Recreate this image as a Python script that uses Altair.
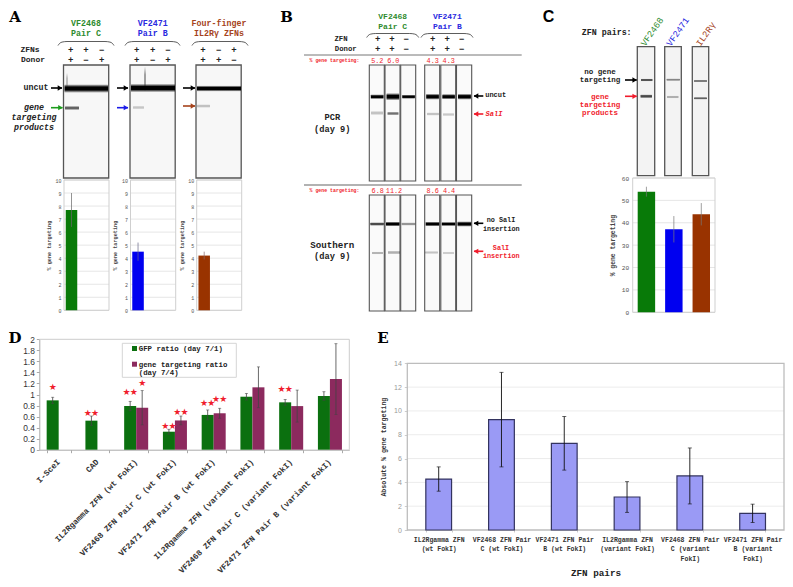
import altair as alt

W, H = 777, 570
MONO = "Liberation Mono"
SANS = "Liberation Sans"
GREEN_T, BLUE_T, BROWN_T, RED = "#2e8b2e", "#2a2ae0", "#a5431c", "#f01c2c"
GREEN, BLUE, BROWN = "#087a08", "#0000f0", "#993300"
D_GREEN, D_PURPLE = "#0b700f", "#8c2a5e"

# ---- panel A / C bar values
lanes = ["ZFN+Donor", "ZFN", "Donor"]
a1_vals, a1_err = [7.7, 0, 0], [1.3, 0, 0]
a2_vals, a2_err = [4.5, 0, 0], [0.7, 0, 0]
a3_vals, a3_err = [4.2, 0, 0], [0.3, 0, 0]
c_names = ["VF2468", "VF2471", "IL2R\u03b3"]
c_vals = [53.9, 37.1, 43.8]
c_err = [2.2, 5.9, 5.0]

# ---- panel D values
d_cats = ["I-SceI", "CAD", "IL2Rgamma ZFN (wt FokI)", "VF2468 ZFN Pair C (wt FokI)",
          "VF2471 ZFN Pair B (wt FokI)", "IL2Rgamma ZFN (variant FokI)",
          "VF2468 ZFN Pair C (variant FokI)", "VF2471 ZFN Pair B (variant FokI)"]
d_gfp = [0.894, 0.526, 0.79, 0.326, 0.63, 0.96, 0.858, 0.973]
d_gfp_err = [0.056, 0.084, 0.086, 0.044, 0.09, 0.06, 0.052, 0.077]
d_gt = [None, None, 0.76, 0.53, 0.66, 1.13, 0.79, 1.28]
d_gt_err = [None, None, 0.31, 0.08, 0.09, 0.37, 0.29, 0.64]
d_stars_pair = [("CAD", "g", 0.67), ("IL2Rgamma ZFN (wt FokI)", "g", 1.04),
                ("VF2468 ZFN Pair C (wt FokI)", "g", 0.43), ("VF2468 ZFN Pair C (wt FokI)", "t", 0.69),
                ("VF2471 ZFN Pair B (wt FokI)", "g", 0.845), ("VF2471 ZFN Pair B (wt FokI)", "t", 0.92),
                ("VF2468 ZFN Pair C (variant FokI)", "g", 1.105)]
d_stars_single = [("I-SceI", "g", 1.13), ("IL2Rgamma ZFN (wt FokI)", "t", 1.214)]

# ---- panel E values
e_cats = ["IL2Rgamma  ZFN|(wt FokI)", "VF2468  ZFN Pair|C (wt FokI)", "VF2471  ZFN Pair|B (wt FokI)",
          "IL2Rgamma  ZFN|(variant FokI)", "VF2468  ZFN Pair|C (variant|FokI)", "VF2471  ZFN Pair|B (variant|FokI)"]
e_vals = [4.28, 9.27, 7.28, 2.77, 4.54, 1.4]
e_err = [1.02, 3.97, 2.25, 1.29, 2.35, 0.77]

blank = alt.Data(values=[{}])
layers = []
def X(v): return v - 8
def Y(v): return v - 8

def text(x, y, s, size=8, color="#222", weight="bold", style="normal", align="center", font=MONO, angle=0):
    layers.append(alt.Chart(blank).mark_text(text=s, fontSize=size, color=color, fontWeight=weight,
                  fontStyle=style, align=align, baseline="middle", font=font, angle=angle)
                  .encode(x=alt.value(X(x)), y=alt.value(Y(y))))

def box(x1, y1, x2, y2, fill="#f7f7f7", stroke="#555", sw=1.3, op=1):
    layers.append(alt.Chart(blank).mark_rect(fill=fill, stroke=stroke, strokeWidth=sw, opacity=op)
                  .encode(x=alt.value(X(x1)), x2=alt.value(X(x2)), y=alt.value(Y(y1)), y2=alt.value(Y(y2))))

def band(x1, x2, yc, h, dark="0,0,0", a=1.0):
    h = h * 1.25
    grad = alt.LinearGradient(gradient="linear", x1=0, y1=0, x2=0, y2=1, stops=[
        alt.GradientStop(color=f"rgba({dark},0)", offset=0),
        alt.GradientStop(color=f"rgba({dark},{a})", offset=0.33),
        alt.GradientStop(color=f"rgba({dark},{a})", offset=0.67),
        alt.GradientStop(color=f"rgba({dark},0)", offset=1)])
    layers.append(alt.Chart(blank).mark_rect(color=grad, cornerRadius=1)
                  .encode(x=alt.value(X(x1)), x2=alt.value(X(x2)), y=alt.value(Y(yc - h / 2)), y2=alt.value(Y(yc + h / 2))))

def hline(x1, x2, y, color="#666", sw=1.0):
    layers.append(alt.Chart(blank).mark_rule(color=color, strokeWidth=sw)
                  .encode(x=alt.value(X(x1)), x2=alt.value(X(x2)), y=alt.value(Y(y))))

def arrow(x_tail, x_head, y, color):
    hline(x_tail, x_head, y, color, 1.6)
    shape = "triangle-right" if x_head > x_tail else "triangle-left"
    layers.append(alt.Chart(blank).mark_point(shape=shape, filled=True, color=color, size=28, opacity=1)
                  .encode(x=alt.value(X(x_head - (2 if x_head > x_tail else -2))), y=alt.value(Y(y))))

def brace(x1, x2, y):
    pts = [(x1, y + 4), (x1 + 1.5, y + 2), (x1 + 4, y + 0.6), (x1 + 9, y), (x2 - 9, y),
           (x2 - 4, y + 0.6), (x2 - 1.5, y + 2), (x2, y + 4)]
    vals = [{"a": X(p[0]), "b": Y(p[1]), "i": i} for i, p in enumerate(pts)]
    layers.append(alt.Chart(alt.Data(values=vals)).mark_line(color="#333", strokeWidth=0.8, interpolate="monotone")
                  .encode(x=alt.X("a:Q", scale=None, axis=None), y=alt.Y("b:Q", scale=None, axis=None), order="i:Q"))

def signs(xs, y, row):
    for x, s in zip(xs, row):
        text(x, y, "+" if s == "+" else "\u2212", size=9)

def small_bars(names, vals, errs, colors, x1, x2, y0, ytop, ymax, ticks, bw_pad, tsize, tpad, titlepad, ttsize, errcolor):
    data = [{"n": n, "v": v, "lo": v - e, "hi": v + e, "c": c} for n, v, e, c in zip(names, vals, errs, colors)]
    gridvals = [{"t": t} for t in ticks]
    ys = alt.Scale(domain=[0, ymax], range=[Y(y0), Y(ytop)], nice=False)
    xs = alt.Scale(domain=names, range=[X(x1), X(x2)], paddingInner=bw_pad, paddingOuter=bw_pad / 2)
    layers.append(alt.Chart(alt.Data(values=gridvals)).mark_rule(color="#e6e6e6", strokeWidth=1)
                  .encode(y=alt.Y("t:Q", scale=ys, axis=alt.Axis(orient="left", offset=-X(x1), values=ticks, domain=False,
                          ticks=False, grid=False, labelFontSize=tsize, labelFont=MONO, labelColor="#555", labelPadding=tpad,
                          title="% gene targeting", titleFont=MONO, titleFontSize=ttsize, titleFontWeight="bold",
                          titleColor="#444", titlePadding=titlepad, format="d")),
                          x=alt.value(X(x1)), x2=alt.value(X(x2))))
    box(x1, ytop, x2, y0, fill="transparent", stroke="#cfcfcf", sw=1)
    layers.append(alt.Chart(alt.Data(values=data)).mark_bar(orient="vertical")
                  .encode(x=alt.X("n:N", scale=xs, sort=names, axis=None), y=alt.Y("v:Q", scale=ys, axis=None),
                          color=alt.Color("c:N", scale=None, legend=None)))
    layers.append(alt.Chart(alt.Data(values=[d for d in data if d["v"] > 0])).mark_rule(color=errcolor, strokeWidth=1, opacity=0.7)
                  .encode(x=alt.X("n:N", scale=xs, sort=names, axis=None), y=alt.Y("lo:Q", scale=ys, axis=None), y2="hi:Q"))

# ------------------- panel letters
text(15, 16.5, "A", size=15, font="DejaVu Serif", color="#000")
text(286.5, 16.5, "B", size=15, font="DejaVu Serif", color="#000")
text(548.5, 16.5, "C", size=16, font=SANS, color="#000")
text(15, 338, "D", size=15, font="DejaVu Serif", color="#000")
text(383, 338, "E", size=15, font="DejaVu Serif", color="#000")

# ------------------- panel A
for cx, a, b, col in [(86, "VF2468", "Pair C", GREEN_T), (152.7, "VF2471", "Pair B", BLUE_T),
                      (219, "Four-finger", "IL2R\u03b3 ZFNs", BROWN_T)]:
    text(cx, 23.5, a, size=8.3, color=col)
    text(cx, 34, b, size=8.3, color=col)
brace(58, 114, 41.5); brace(125, 180, 41.5); brace(192, 248, 41.5)
text(30, 50, "ZFNs", size=8); text(33, 60, "Donor", size=8)
a_cols = [[70.7, 86, 101.7], [136.7, 152.7, 168], [203, 218.7, 234]]
signs(a_cols[0], 50, "++-"); signs(a_cols[0], 60, "+-+")
signs(a_cols[1], 50, "++-"); signs(a_cols[1], 60, "+-+")
signs(a_cols[2], 50, "+-+"); signs(a_cols[2], 60, "++-")
for x in (63.5, 130, 196):
    box(x, 65, x + 45.2, 178)
band(64.5, 108, 88.5, 7); band(66.5, 67.5, 81, 13, a=0.45)
band(131, 175, 88, 7); band(144.5, 145.5, 79, 20, a=0.7)
band(197, 241, 88.5, 5)
band(65, 79, 108, 3.5, a=0.6)
band(133, 144, 107.5, 3, a=0.2)
band(197, 210, 106, 3, a=0.22)
text(36, 88, "uncut", size=8.3)
arrow(51, 62, 88, "#000"); arrow(117, 128, 88, "#000"); arrow(183, 195, 88, "#000")
arrow(51, 62.5, 107.7, "#1c9c1c"); arrow(117, 128, 107.7, "#1c1ce8"); arrow(183, 195, 106, "#a5431c")
text(34, 108, "gene", size=8.3, style="italic")
text(34, 118, "targeting", size=8.3, style="italic")
text(34, 128, "products", size=8.3, style="italic")
tick10 = list(range(0, 11))
small_bars(lanes, a1_vals, a1_err, [GREEN] * 3, 64, 109, 310.3, 180, 10, tick10, 0.233, 5, 3, 3.5, 5.2, "#666")
small_bars(lanes, a2_vals, a2_err, [BLUE] * 3, 130.5, 175.7, 310.3, 180, 10, tick10, 0.233, 5, 3, 3.5, 5.2, "#668")
small_bars(lanes, a3_vals, a3_err, [BROWN] * 3, 196.7, 241.7, 310.3, 180, 10, tick10, 0.233, 5, 3, 3.5, 5.2, "#866")

# ------------------- panel B
text(392.7, 17, "VF2468", size=8, color=GREEN_T); text(392.7, 27, "Pair C", size=8, color=GREEN_T)
text(447.3, 17, "VF2471", size=8, color=BLUE_T); text(447.3, 27, "Pair B", size=8, color=BLUE_T)
brace(366.7, 418.7, 33.5); brace(421, 473, 33.5)
text(341, 39, "ZFN", size=7.3); text(345.7, 48.7, "Donor", size=7.3)
b_cols = [377.7, 392, 406.3, 432.7, 447.3, 461.7]
signs(b_cols, 39, "++-++-"); signs(b_cols, 48.7, "++-++-")
hline(304, 521.7, 55, "#777", 1); hline(304, 521.7, 185, "#999", 1.4)
text(334.5, 61.3, "% gene targeting:", size=4.9, color=RED)
text(334.5, 191, "% gene targeting:", size=4.9, color=RED)
for x, s in [(377.3, "5.2"), (393.3, "6.0"), (432.7, "4.3"), (448.7, "4.3")]:
    text(x, 61, s, size=6.8, color=RED, weight="normal")
for x, s in [(377.7, "6.8"), (394, "11.2"), (432.7, "8.6"), (449, "4.4")]:
    text(x, 191, s, size=6.8, color=RED, weight="normal")
lane_x = [(369.3, 384.3), (385, 400), (400.7, 415.7), (424.7, 439.7), (440.8, 455.7), (456.5, 471.7)]
for x1, x2 in lane_x:
    box(x1, 65, x2, 181, fill="#fafafa", sw=1.1)
    box(x1, 195, x2, 311, fill="#fafafa", sw=1.1)
for (x1, x2), h in zip(lane_x, [4, 6, 3.5, 5, 4.5, 5]):
    band(x1 + 1.5, x2 - 0.8, 96.7, h)
band(371, 383, 113, 3.5, a=0.22); band(387.5, 398.5, 113.5, 3, a=0.55)
band(427, 439, 114, 2.8, a=0.22); band(443, 454, 114.5, 2.8, a=0.2)
text(495.7, 95, "uncut", size=7); text(494, 114, "SalI", size=7, color=RED, style="italic")
arrow(483.3, 474, 96, "#000"); arrow(483.3, 474, 114, RED)
text(332.3, 117, "PCR", size=8.7); text(332.3, 128.5, "(day 9)", size=8.7)
for (x1, x2), h, a in zip(lane_x, [3, 4, 2.8, 4, 3.5, 4.5], [0.7, 1, 0.4, 1, 1, 1]):
    band(x1 + 1, x2 - 0.5, 224, h, a=a)
band(372, 383, 253, 2.5, a=0.28); band(388, 400, 252.5, 3.2, a=0.3)
band(425, 438, 252.5, 2.5, a=0.22); band(443, 454, 253, 2.5, a=0.18)
arrow(483.3, 474, 223.3, "#000"); arrow(483.3, 474, 251.3, RED)
text(501, 220.3, "no SalI", size=6.8); text(501.3, 228.7, "insertion", size=6.8)
text(501, 248, "SalI", size=6.8, color=RED); text(501.3, 256.3, "insertion", size=6.8, color=RED)
text(332.3, 245.3, "Southern", size=9.2); text(332.3, 256.3, "(day 9)", size=8.7)

# ------------------- panel C
text(606.7, 32.7, "ZFN pairs:", size=8.3)
text(652, 31.7, c_names[0], size=9, color=GREEN_T, angle=305, weight="normal")
text(677.7, 31.7, c_names[1], size=9, color=BLUE_T, angle=305, weight="normal")
text(705.7, 34, c_names[2], size=9, color=BROWN_T, angle=305, weight="normal")
for x1, x2 in [(637.3, 654.7), (664.7, 681.3), (692.3, 708.7)]:
    box(x1, 46.7, x2, 175.7, fill="#f3f3f3")
band(641, 652.5, 80, 2.5, a=0.65); band(640.5, 652, 96.3, 3.2, a=0.7)
band(666.5, 680, 79.7, 2.2, a=0.45); band(667, 678.5, 97, 2.5, a=0.28)
band(694, 707, 81, 2.2, a=0.5); band(694, 707, 98.3, 2.2, a=0.6)
text(600, 72, "no gene", size=7.5); text(600, 80, "targeting", size=7.5)
text(600, 96.7, "gene", size=7.5, color=RED); text(600, 104.7, "targeting", size=7.5, color=RED); text(600, 112.7, "products", size=7.5, color=RED)
arrow(625, 636.7, 80, "#000"); arrow(625, 636.7, 96.3, RED)
small_bars(c_names, c_vals, c_err, [GREEN, BLUE, BROWN], 632.7, 715, 312.3, 178, 60, [0, 10, 20, 30, 40, 50, 60], 0.364, 6.2, 4, 6, 6.4, "#777")

# ------------------- panel D
d_ticks = [0, 0.2, 0.4, 0.6, 0.8, 1, 1.2, 1.4, 1.6, 1.8, 2]
d_y = alt.Scale(domain=[0, 2], range=[Y(449.7), Y(339.3)], nice=False)
d_x = alt.Scale(domain=d_cats, range=[X(39.3), X(349.3)], paddingInner=0.38, paddingOuter=0.19)
d_o = alt.Scale(domain=["g", "t"])
d_rows = []
for c, g, ge, t, te in zip(d_cats, d_gfp, d_gfp_err, d_gt, d_gt_err):
    d_rows.append({"c": c, "s": "g", "v": g, "lo": g - ge, "hi": g + ge})
    if t is not None:
        d_rows.append({"c": c, "s": "t", "v": t, "lo": t - te, "hi": t + te})
dx_enc = alt.X("c:N", scale=d_x, sort=d_cats, axis=None)
ox_enc = alt.XOffset("s:N", scale=d_o)
hline(39.3, 349.3, 339.3, "#ccc", 1)
layers.append(alt.Chart(blank).mark_rule(color="#ccc", strokeWidth=1).encode(x=alt.value(X(349.3)), y=alt.value(Y(339.3)), y2=alt.value(Y(449.7))))
layers.append(alt.Chart(alt.Data(values=d_rows)).mark_bar()
    .encode(x=alt.X("c:N", scale=d_x, sort=d_cats, title=None,
                    axis=alt.Axis(orient="bottom", offset=Y(449.7) - H, labelAngle=-45, labelAlign="right", labelBaseline="middle",
                                  labelFont=MONO, labelFontSize=8.2, labelFontWeight="bold", labelColor="#333", labelPadding=8,
                                  tickBand="extent", tickColor="#aaa", tickSize=3, domainColor="#aaa", labelLimit=400, labelOverlap=False)),
            xOffset=ox_enc,
            y=alt.Y("v:Q", scale=d_y, title=None,
                    axis=alt.Axis(orient="left", offset=-X(39.3), values=d_ticks, labelExpr="format(datum.value, '.1~f')",
                                  labelFont=SANS, labelFontSize=8.4, labelColor="#333", domainColor="#aaa",
                                  tickColor="#aaa", tickSize=3, labelPadding=2)),
            color=alt.Color("s:N", scale=alt.Scale(domain=["g", "t"], range=[D_GREEN, D_PURPLE]), legend=None)))
layers.append(alt.Chart(alt.Data(values=d_rows)).mark_rule(color="#444", strokeWidth=0.8)
    .encode(x=dx_enc, xOffset=ox_enc, y=alt.Y("lo:Q", scale=d_y, axis=None), y2="hi:Q"))
for fld in ("lo", "hi"):
    layers.append(alt.Chart(alt.Data(values=d_rows)).mark_tick(orient="horizontal", color="#444", size=3, thickness=0.8)
        .encode(x=dx_enc, xOffset=ox_enc, y=alt.Y(f"{fld}:Q", scale=d_y, axis=None)))
pair = [{"c": c, "s": s, "v": v} for c, s, v in d_stars_pair]
single = [{"c": c, "s": s, "v": v} for c, s, v in d_stars_single]
for rows, dx in [(pair, -3.7), (pair, 3.7), (single, 0)]:
    layers.append(alt.Chart(alt.Data(values=rows)).mark_text(text="\u2605", font="DejaVu Sans", fontSize=9, color=RED, dx=dx, baseline="middle")
        .encode(x=dx_enc, xOffset=ox_enc, y=alt.Y("v:Q", scale=d_y, axis=None)))
box(122.3, 343.3, 236.3, 377.3, fill="#ffffff", stroke="#d5d5d5", sw=1)
box(132, 346, 137, 351, fill=D_GREEN, stroke=D_GREEN, sw=0)
box(132, 361.7, 137, 366.7, fill=D_PURPLE, stroke=D_PURPLE, sw=0)
text(138.7, 349, "GFP ratio (day 7/1)", size=7.4, align="left")
text(138.7, 364.7, "gene targeting ratio", size=7.4, align="left")
text(138.7, 373.3, "(day 7/4)", size=7.4, align="left")

# ------------------- panel E
e_ticks = [0, 2, 4, 6, 8, 10, 12, 14]
e_y = alt.Scale(domain=[0, 14], range=[Y(530), Y(363.3)], nice=False)
e_x = alt.Scale(domain=e_cats, range=[X(407.3), X(784)], paddingInner=0.59, paddingOuter=0.295)
e_rows = [{"c": c, "v": v, "lo": v - e, "hi": v + e} for c, v, e in zip(e_cats, e_vals, e_err)]
e_enc = alt.X("c:N", scale=e_x, sort=e_cats, axis=None)
layers.append(alt.Chart(alt.Data(values=[{"t": t} for t in e_ticks[1:-1]])).mark_rule(color="#ececec", strokeWidth=1)
    .encode(y=alt.Y("t:Q", scale=e_y, axis=None), x=alt.value(X(407.3)), x2=alt.value(X(784))))
box(407.3, 363.3, 784, 530, fill="transparent", stroke="#bdbdbd", sw=1.3)
layers.append(alt.Chart(alt.Data(values=e_rows)).mark_bar(color="#9a9af5", stroke="#33335f", strokeWidth=1.2)
    .encode(x=alt.X("c:N", scale=e_x, sort=e_cats, title=None,
                    axis=alt.Axis(orient="bottom", offset=Y(530) - H, labelAngle=0, labelAlign="center", labelBaseline="top",
                                  labelExpr="split(datum.label, '|')", labelFont=MONO, labelFontSize=6.5, labelFontWeight="bold",
                                  labelColor="#333", labelLineHeight=9.7, labelPadding=4, labelLimit=300, labelOverlap=False,
                                  tickBand="extent", tickColor="#ccc", tickSize=2, domain=False)),
            y=alt.Y("v:Q", scale=e_y,
                    axis=alt.Axis(orient="left", offset=-X(407.3), values=e_ticks, domain=False, tickColor="#ccc", tickSize=3,
                                  labelFont=SANS, labelFontSize=7, labelColor="#999", labelPadding=3,
                                  title="Absolute % gene targeting", titleFont=MONO, titleFontSize=6.6, titleFontWeight="bold",
                                  titleColor="#333", titlePadding=7))))
layers.append(alt.Chart(alt.Data(values=e_rows)).mark_rule(color="#111", strokeWidth=0.9)
    .encode(x=e_enc, y=alt.Y("lo:Q", scale=e_y, axis=None), y2="hi:Q"))
for fld in ("lo", "hi"):
    layers.append(alt.Chart(alt.Data(values=e_rows)).mark_tick(orient="horizontal", color="#111", size=4, thickness=0.9)
        .encode(x=e_enc, y=alt.Y(f"{fld}:Q", scale=e_y, axis=None)))
text(596, 572.5, "ZFN pairs", size=9.3)

chart = (alt.layer(*layers)
         .resolve_scale(x="independent", y="independent", color="independent", xOffset="independent")
         .resolve_axis(x="independent", y="independent")
         .properties(width=W, height=H, padding=0, autosize=alt.AutoSizeParams(type="none"), background="#ffffff")
         .configure_view(stroke=None))
chart.save("out.html", embed_options={"renderer": "svg", "actions": False})
